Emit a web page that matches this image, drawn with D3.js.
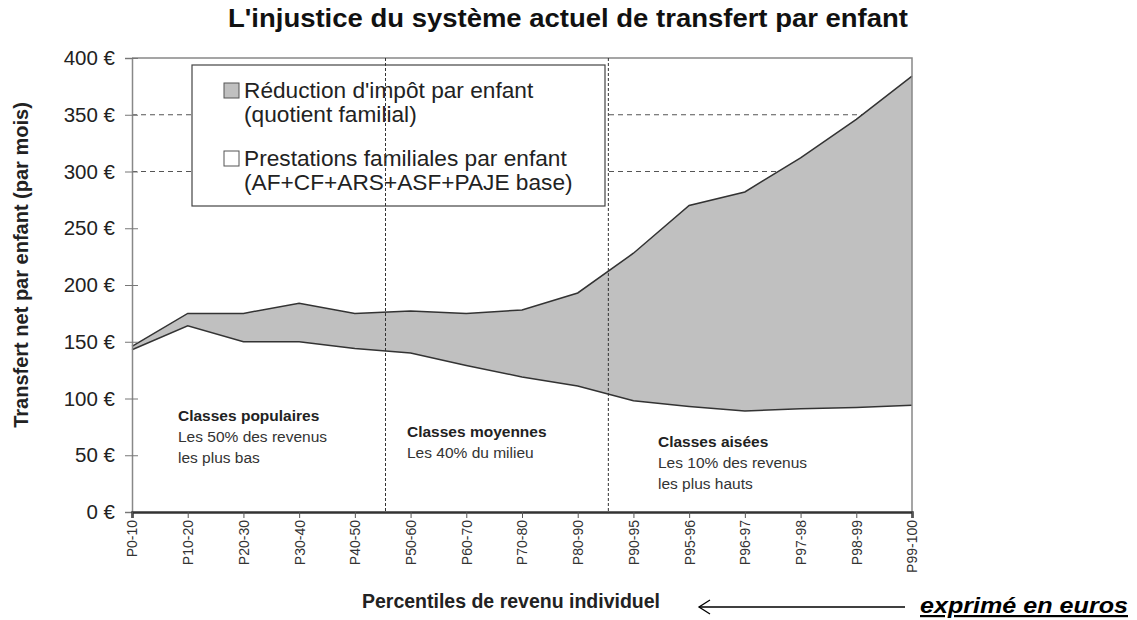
<!DOCTYPE html>
<html>
<head>
<meta charset="utf-8">
<script src="https://cdn.jsdelivr.net/npm/d3@7"></script>
<style>
  body { margin: 0; background: #fff; }
  text { font-family: "Liberation Sans", Arial, sans-serif; }
</style>
</head>
<body>
<div id="chart"></div>
<script>
const categories = ["P0-10", "P10-20", "P20-30", "P30-40", "P40-50", "P50-60", "P60-70",
  "P70-80", "P80-90", "P90-95", "P95-96", "P96-97", "P97-98", "P98-99", "P99-100"];

// prestations familiales par enfant (bas de la zone grise)
const prestations = [143, 164, 150, 150, 144, 140, 129, 119, 111, 98, 93, 89, 91, 92, 94];
// réduction d'impôt par enfant (épaisseur de la zone grise)
const reduction = [3, 11, 25, 34, 31, 37, 46, 59, 82, 130, 177, 193, 221, 254, 290];

const yTicks = [0, 50, 100, 150, 200, 250, 300, 350, 400];
const gridValues = [300, 350];
const dividers = [4.55, 8.55];

const legendItems = [
  { fill: "#c0c0c0", lines: ["Réduction d'impôt par enfant", "(quotient familial)"] },
  { fill: "#ffffff", lines: ["Prestations familiales par enfant", "(AF+CF+ARS+ASF+PAJE base)"] }
];

const groupLabels = [
  ["Classes populaires", "Les 50% des revenus", "les plus bas"],
  ["Classes moyennes", "Les 40% du milieu"],
  ["Classes aisées", "Les 10% des revenus", "les plus hauts"]
];

const W = 1137, H = 620;
const pLeft = 132, pRight = 912, pTop = 58, pBottom = 512;

const svg = d3.select("#chart").append("svg")
    .attr("width", W)
    .attr("height", H);

const x = d3.scalePoint()
    .domain(categories)
    .range([pLeft, pRight]);

const xi = d3.scaleLinear()
    .domain([0, categories.length - 1])
    .range([pLeft, pRight]);

const y = d3.scaleLinear()
    .domain([0, 400])
    .range([pBottom, pTop]);

const rows = categories.map((c, i) => ({
  cat: c,
  low: prestations[i],
  high: prestations[i] + reduction[i]
}));

// title
svg.append("text")
    .attr("x", 568)
    .attr("y", 27)
    .attr("text-anchor", "middle")
    .attr("textLength", 680)
    .attr("lengthAdjust", "spacingAndGlyphs")
    .style("font-size", "25px")
    .style("font-weight", "bold")
    .style("fill", "#111")
    .text("L'injustice du système actuel de transfert par enfant");

// grid lines
svg.append("g").selectAll("line")
  .data(gridValues)
  .join("line")
    .attr("x1", pLeft).attr("x2", pRight)
    .attr("y1", d => y(d)).attr("y2", d => y(d))
    .attr("stroke", "#555")
    .attr("stroke-width", 1)
    .attr("stroke-dasharray", "5,4");

// areas
const areaHigh = d3.area()
    .x(d => x(d.cat))
    .y0(d => y(d.low))
    .y1(d => y(d.high));

svg.append("path")
    .datum(rows)
    .attr("d", areaHigh)
    .attr("fill", "#c0c0c0");

const lineHigh = d3.line().x(d => x(d.cat)).y(d => y(d.high));
const lineLow = d3.line().x(d => x(d.cat)).y(d => y(d.low));

svg.append("path")
    .datum(rows)
    .attr("d", lineHigh)
    .attr("fill", "none")
    .attr("stroke", "#333")
    .attr("stroke-width", 1.5);

svg.append("path")
    .datum(rows)
    .attr("d", lineLow)
    .attr("fill", "none")
    .attr("stroke", "#333")
    .attr("stroke-width", 1.5);

// plot frame (top and right)
svg.append("path")
    .attr("d", `M${pLeft},${pTop}H${pRight}V${pBottom}`)
    .attr("fill", "none")
    .attr("stroke", "#888")
    .attr("stroke-width", 1.5);

// y axis
const yAxis = svg.append("g")
    .attr("transform", `translate(${pLeft},0)`)
    .call(d3.axisLeft(y).tickValues(yTicks).tickSize(7).tickPadding(10)
      .tickFormat(d => d + " €"));
yAxis.select(".domain").attr("stroke", "#888").attr("stroke-width", 1.5);
yAxis.selectAll(".tick line").attr("stroke", "#777").attr("x2", -7).attr("x1", 6);
yAxis.selectAll(".tick text")
    .attr("x", -17)
    .style("font-size", "20.5px")
    .style("fill", "#222");

// legend
const lg = svg.append("g");
lg.append("rect")
    .attr("x", 192).attr("y", 65)
    .attr("width", 413).attr("height", 141)
    .attr("fill", "#fff")
    .attr("stroke", "#444")
    .attr("stroke-width", 1.2);

legendItems.forEach((item, k) => {
  const by = 98 + k * 68;
  lg.append("rect")
      .attr("x", 224).attr("y", by - 15)
      .attr("width", 15).attr("height", 15)
      .attr("fill", item.fill)
      .attr("stroke", "#555");
  item.lines.forEach((line, j) => {
    lg.append("text")
        .attr("transform", `translate(244,${by - 0.5 + j * 24}) scale(1.06,1)`)
        .style("font-size", "21.4px")
        .style("fill", "#222")
        .text(line);
  });
});

// dividers between classes
svg.append("g").selectAll("line")
  .data(dividers)
  .join("line")
    .attr("x1", d => xi(d)).attr("x2", d => xi(d))
    .attr("y1", pTop).attr("y2", pBottom)
    .attr("stroke", "#333")
    .attr("stroke-width", 1)
    .attr("stroke-dasharray", "3,2");

// x axis
const xAxis = svg.append("g")
    .attr("transform", `translate(0,${pBottom})`)
    .call(d3.axisBottom(x).tickSize(6).tickPadding(8));
xAxis.select(".domain").attr("stroke", "#333").attr("stroke-width", 2.5);
xAxis.selectAll(".tick line").attr("stroke", "#555");
xAxis.selectAll(".tick text")
    .attr("transform", "rotate(-90)")
    .attr("x", -8)
    .attr("y", 0)
    .attr("dy", "0.35em")
    .attr("text-anchor", "end")
    .style("font-size", "14px")
    .style("fill", "#333");

// class labels
const groupPos = [[178, 421], [407, 437], [658, 447]];
groupLabels.forEach((lines, g) => {
  lines.forEach((t, j) => {
    svg.append("text")
        .attr("x", groupPos[g][0])
        .attr("y", groupPos[g][1] + j * 21)
        .style("font-size", "15.5px")
        .style("font-weight", j === 0 ? "bold" : "normal")
        .style("fill", j === 0 ? "#222" : "#333")
        .text(t);
  });
});

// axis titles
svg.append("text")
    .attr("transform", "translate(28,265) rotate(-90)")
    .attr("text-anchor", "middle")
    .style("font-size", "20px")
    .style("font-weight", "bold")
    .style("fill", "#222")
    .text("Transfert net par enfant (par mois)");

svg.append("text")
    .attr("x", 511)
    .attr("y", 608)
    .attr("text-anchor", "middle")
    .style("font-size", "19.5px")
    .style("font-weight", "bold")
    .style("fill", "#222")
    .text("Percentiles de revenu individuel");

// arrow + note
svg.append("line")
    .attr("x1", 699).attr("x2", 905)
    .attr("y1", 607).attr("y2", 607)
    .attr("stroke", "#000")
    .attr("stroke-width", 1.3);
svg.append("path")
    .attr("d", "M710,600L699,607L710,614")
    .attr("fill", "none")
    .attr("stroke", "#000")
    .attr("stroke-width", 1.3);

svg.append("text")
    .attr("x", 1128)
    .attr("y", 613)
    .attr("text-anchor", "end")
    .attr("textLength", 208)
    .attr("lengthAdjust", "spacingAndGlyphs")
    .style("font-size", "22px")
    .style("font-weight", "bold")
    .style("font-style", "italic")
    .style("text-decoration", "underline")
    .style("fill", "#000")
    .text("exprimé en euros");
</script>
</body>
</html>
